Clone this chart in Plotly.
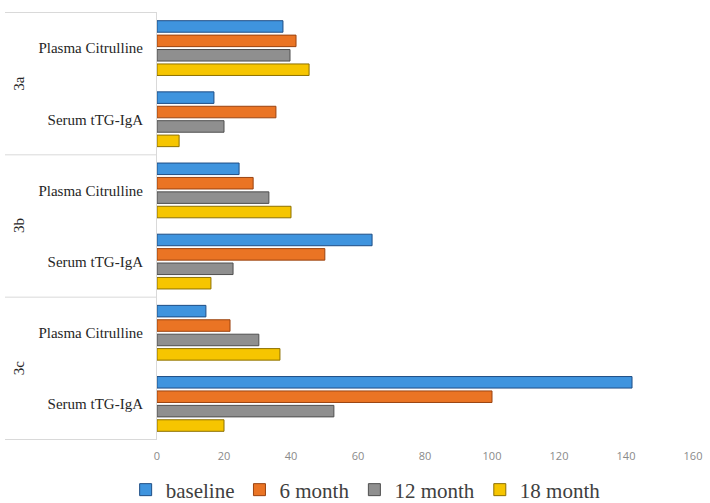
import plotly.graph_objects as go

groups = ["3a", "3a", "3b", "3b", "3c", "3c"]
measures = ["Plasma Citrulline", "Serum tTG-IgA"] * 3
series_names = ["baseline", "6 month", "12 month", "18 month"]
baseline = [37.6, 17.0, 24.5, 64.2, 14.6, 141.8]
month6 = [41.5, 35.5, 28.7, 50.1, 21.8, 100.0]
month12 = [39.7, 20.0, 33.4, 22.7, 30.4, 52.8]
month18 = [45.4, 6.6, 40.0, 16.1, 36.7, 20.0]
x_ticks = [0, 20, 40, 60, 80, 100, 120, 140, 160]

colors = ["#3f94de", "#ea7424", "#8f8f8f", "#f6c500"]
edges = ["#1f4e85", "#9a4310", "#4f4f4f", "#8d7000"]

cats = [g + " " + m for g, m in zip(groups, measures)]

fig = go.Figure()
for name, vals, c, e in zip(series_names, [baseline, month6, month12, month18], colors, edges):
    fig.add_trace(go.Bar(
        y=cats, x=vals, name=name, orientation="h",
        marker=dict(color=c, line=dict(color=e, width=1)),
    ))

W, H = 710, 503
left, right, top, bottom = 157, 693, 12, 440
pw = right - left

shapes = []
for b in [-0.5, 1.5, 3.5, 5.5]:
    shapes.append(dict(type="line", xref="paper", yref="y",
                       x0=(5 - left) / pw, x1=0, y0=b, y1=b,
                       line=dict(color="#d9d9d9", width=1)))

annotations = []
for i, g in enumerate(["3a", "3b", "3c"]):
    annotations.append(dict(text=g, xref="paper", yref="y",
                            x=(19 - left) / pw, y=2 * i + 0.5,
                            textangle=-90, showarrow=False,
                            xanchor="center", yanchor="middle",
                            font=dict(family="Liberation Serif", size=15, color="#262626")))

fig.update_layout(
    width=W, height=H,
    margin=dict(l=left, r=W - right, t=top, b=H - bottom, autoexpand=False),
    paper_bgcolor="white", plot_bgcolor="white",
    barmode="group", bargap=0.19, bargroupgap=0.2,
    shapes=shapes, annotations=annotations,
    showlegend=True,
    legend=dict(orientation="h", xref="container", yref="container",
                x=0.515, xanchor="center", y=13 / H, yanchor="middle",
                bgcolor="rgba(0,0,0,0)",
                font=dict(family="Liberation Serif", size=21, color="#404040"),
                itemwidth=30, tracegroupgap=0),
    xaxis=dict(range=[0, 160], tickvals=x_ticks, showgrid=False, zeroline=False,
               showline=False, ticks="outside", ticklen=6, tickcolor="rgba(0,0,0,0)",
               automargin=False,
               tickfont=dict(family="Open Sans", size=11, color="#8a8a8a")),
    yaxis=dict(autorange="reversed", tickvals=cats, ticktext=measures,
               showgrid=False, zeroline=False, showline=True, linecolor="#d9d9d9",
               ticks="outside", ticklen=10, tickcolor="rgba(0,0,0,0)",
               automargin=False,
               tickfont=dict(family="Liberation Serif", size=15, color="#262626")),
)

fig.write_html("out.html", config={"displayModeBar": False},
               post_script="document.body.style.margin='0';")
